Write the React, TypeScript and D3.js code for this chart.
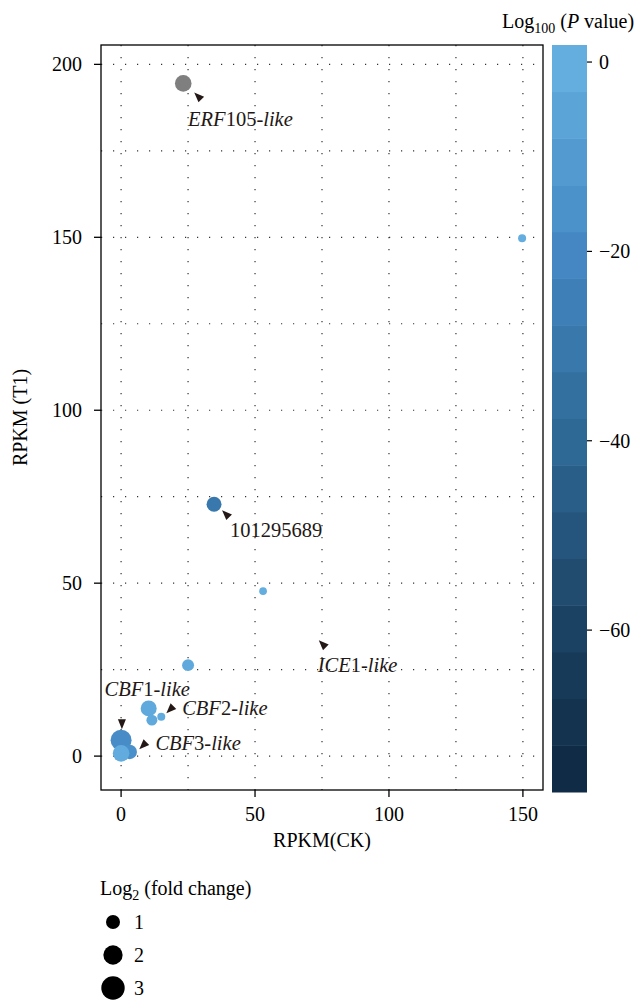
import React from "react";
import * as d3 from "d3";

// ---------- data ----------
const geneX = [23.2, 149.7, 34.7, 53.0, 25.0, 10.3, 11.5, 15.0, 0.0, 3.2, 0.0];
const geneY = [194.5, 149.7, 72.8, 47.7, 26.3, 13.8, 10.4, 11.4, 4.6, 1.2, 0.8];
const geneFC = [1.45, 0.25, 1.16, 0.22, 0.7, 1.34, 0.57, 0.25, 2.39, 1.1, 1.45];
const geneP: (number | null)[] = [null, -1, -30, -1, -3, -3, -3, -2, -18, -16, -2];

const xTicks = [0, 50, 100, 150];
const yTicks = [0, 50, 100, 150, 200];
const xGrid = [0, 25, 50, 75, 100, 125, 150];
const yGrid = [0, 25, 50, 75, 100, 125, 150, 175, 200];
const colorLimits = [-77.1, 1.8];
const colorStops = [-77.1, -60, -40, -20, 1.8];
const colorStopValues = ["#0E2740", "#1C4263", "#2E6894", "#4488C4", "#67B2E3"];
const colorTicks = [0, -20, -40, -60];
const sizeLegend = [1, 2, 3];

type Part = { t: string; it: boolean };
const annLabels: Part[][] = [
  [{ t: "ERF", it: true }, { t: "105", it: false }, { t: "-like", it: true }],
  [{ t: "101295689", it: false }],
  [{ t: "ICE", it: true }, { t: "1", it: false }, { t: "-like", it: true }],
  [{ t: "CBF", it: true }, { t: "1", it: false }, { t: "-like", it: true }],
  [{ t: "CBF", it: true }, { t: "2", it: false }, { t: "-like", it: true }],
  [{ t: "CBF", it: true }, { t: "3", it: false }, { t: "-like", it: true }],
];
const annTipX = [27.3, 37.7, 73.8, 0.3, 16.9, 6.8];
const annTipY = [191.9, 71.1, 33.5, 7.8, 12.4, 2.0];
const annAngle = [-135, -135, -135, 90, 135, 135];
const annLabX = [25, 40.7, 73.4, -6.2, 22.8, 12.8];
const annLabY = [182.1, 63.3, 24.3, 17.3, 11.8, 1.7];

// ---------- layout ----------
const W = 638;
const H = 1000;
const PL = 101, PR = 543, PT = 45, PB = 790;
const CB = { x0: 552, x1: 587, y0: 45, y1: 792 };
const FONT = "'Liberation Serif', 'DejaVu Serif', serif";
const FS = 20;
const T: React.CSSProperties = { fontFamily: FONT, fontSize: FS };

export default function App() {
  const x = d3.scaleLinear().domain([-7.5, 157.5]).range([PL, PR]);
  const y = d3.scaleLinear().domain([-9.8, 205.6]).range([PB, PT]);
  const color = d3
    .scaleLinear<string>()
    .domain(colorStops)
    .range(colorStopValues)
    .interpolate(d3.interpolateRgb);
  const col = (v: number | null) => (v === null ? "#7f7f7f" : color(v));
  const rSq = d3.scaleLinear().domain([1, 3]).range([49, 137]);
  const radius = (v: number) => Math.sqrt(Math.max(4, rSq(v)));
  const cbY = d3.scaleLinear().domain(colorLimits).range([CB.y1, CB.y0]);

  const nBands = 16;
  const bands = d3.range(nBands).map((i) => {
    const v0 = colorLimits[0] + ((colorLimits[1] - colorLimits[0]) * i) / nBands;
    const v1 = colorLimits[0] + ((colorLimits[1] - colorLimits[0]) * (i + 1)) / nBands;
    return { v0, v1, c: color((v0 + v1) / 2) };
  });

  const arrow = (tx: number, ty: number, ang: number) => {
    const a = (ang * Math.PI) / 180;
    const L = 10, hw = 4;
    const bx = tx - L * Math.cos(a), by = ty - L * Math.sin(a);
    const px = -Math.sin(a) * hw, py = Math.cos(a) * hw;
    return `M${tx},${ty}L${bx + px},${by + py}L${bx - px},${by - py}Z`;
  };

  return (
    <svg
      width={W}
      height={H}
      style={{ position: "absolute", left: 0, top: 0, background: "#fff" }}
    >
      {/* grid */}
      <g stroke="#333" strokeWidth={1.2} strokeDasharray="1.2,10.8">
        {xGrid.map((v) => (
          <line key={"gx" + v} x1={x(v)} x2={x(v)} y1={PT} y2={PB} />
        ))}
        {yGrid.map((v) => (
          <line key={"gy" + v} x1={PL} x2={PR} y1={y(v)} y2={y(v)} />
        ))}
      </g>

      {/* points */}
      {geneX.map((gx, i) => (
        <circle key={"p" + i} cx={x(gx)} cy={y(geneY[i])} r={radius(geneFC[i])} fill={col(geneP[i])} />
      ))}

      {/* annotations */}
      {annLabels.map((parts, i) => (
        <g key={"a" + i}>
          <path d={arrow(x(annTipX[i]), y(annTipY[i]), annAngle[i])} fill="#231815" />
          <text x={x(annLabX[i])} y={y(annLabY[i])} style={{ ...T, fontSize: 20.5 }} fill="#231815">
            {parts.map((p, j) => (
              <tspan key={j} fontStyle={p.it ? "italic" : "normal"}>
                {p.t}
              </tspan>
            ))}
          </text>
        </g>
      ))}

      {/* panel border */}
      <rect x={PL} y={PT} width={PR - PL} height={PB - PT} fill="none" stroke="#000" strokeWidth={1.3} />

      {/* x axis */}
      {xTicks.map((v) => (
        <g key={"xt" + v}>
          <line x1={x(v)} x2={x(v)} y1={PB} y2={PB + 7} stroke="#000" strokeWidth={1.3} />
          <text x={x(v)} y={PB + 31} style={T} textAnchor="middle">
            {v}
          </text>
        </g>
      ))}
      <text x={(PL + PR) / 2} y={847} style={T} textAnchor="middle">
        RPKM(CK)
      </text>

      {/* y axis */}
      {yTicks.map((v) => (
        <g key={"yt" + v}>
          <line x1={PL - 7} x2={PL} y1={y(v)} y2={y(v)} stroke="#000" strokeWidth={1.3} />
          <text x={PL - 19} y={y(v) + 7} style={T} textAnchor="end">
            {v}
          </text>
        </g>
      ))}
      <text transform={`translate(27,${(PT + PB) / 2}) rotate(-90)`} style={T} textAnchor="middle">
        RPKM (T1)
      </text>

      {/* colorbar */}
      {bands.map((b, i) => (
        <rect
          key={"cb" + i}
          x={CB.x0}
          width={CB.x1 - CB.x0}
          y={cbY(b.v1)}
          height={cbY(b.v0) - cbY(b.v1) + 0.5}
          fill={b.c}
        />
      ))}
      {colorTicks.map((v) => (
        <g key={"ct" + v}>
          <line x1={CB.x1} x2={CB.x1 + 5} y1={cbY(v)} y2={cbY(v)} stroke="#000" strokeWidth={1.2} />
          <text x={CB.x1 + 12} y={cbY(v) + 7} style={T}>
            {v === 0 ? "0" : "\u2212" + Math.abs(v)}
          </text>
        </g>
      ))}
      <text x={502} y={28} style={T}>
        Log
        <tspan fontSize={14} dy={5}>100</tspan>
        <tspan dy={-5}> (</tspan>
        <tspan fontStyle="italic">P</tspan>
        <tspan> value)</tspan>
      </text>

      {/* size legend */}
      <text x={100} y={895} style={T}>
        Log
        <tspan fontSize={14} dy={5}>2</tspan>
        <tspan dy={-5}> (fold change)</tspan>
      </text>
      {sizeLegend.map((v, i) => {
        const cy = 922 + i * 33;
        return (
          <g key={"sl" + v}>
            <circle cx={113} cy={cy} r={radius(v)} fill="#000" />
            <text x={134} y={cy + 7} style={T}>
              {v}
            </text>
          </g>
        );
      })}
    </svg>
  );
}
